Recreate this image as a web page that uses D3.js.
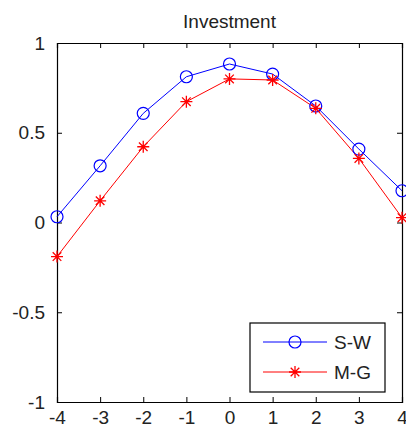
<!DOCTYPE html>
<html>
<head>
<meta charset="utf-8">
<script src="https://cdn.jsdelivr.net/npm/d3@7"></script>
<style>
  body { margin: 0; background: #fff; }
  svg text { font-family: "Liberation Sans", Arial, sans-serif; fill: #222; }
</style>
</head>
<body>
<div id="chart"></div>
<script>
// data
const xValues = [-4, -3, -2, -1, 0, 1, 2, 3, 4];
const swValues = [0.032, 0.316, 0.608, 0.812, 0.883, 0.827, 0.649, 0.409, 0.177];
const mgValues = [-0.19, 0.121, 0.422, 0.673, 0.80, 0.794, 0.636, 0.357, 0.027];
const xTicks = [-4, -3, -2, -1, 0, 1, 2, 3, 4];
const yTicks = [-1, -0.5, 0, 0.5, 1];
const seriesNames = ["S-W", "M-G"];

const width = 406, height = 428;
const margin = { top: 43, right: 4, bottom: 26, left: 57 };
const fontSize = "19px";

const x = d3.scaleLinear().domain([-4, 4]).range([margin.left, width - margin.right]);
const y = d3.scaleLinear().domain([-1, 1]).range([height - margin.bottom, margin.top]);

const svg = d3.select("#chart").append("svg")
  .attr("width", width)
  .attr("height", height);

// title
svg.append("text")
  .attr("x", (x(-4) + x(4)) / 2)
  .attr("y", 28)
  .attr("text-anchor", "middle")
  .style("font-size", fontSize)
  .text("Investment");

// axes (ticks inward, box style)
const tickLen = 5;
const fmt = d => d3.format("")(d).replace("−", "-");

const bottomAxis = svg.append("g")
  .attr("transform", `translate(0,${y(-1)})`)
  .call(d3.axisBottom(x).tickValues(xTicks).tickSize(-tickLen).tickPadding(9).tickFormat(fmt));
const topAxis = svg.append("g")
  .attr("transform", `translate(0,${y(1)})`)
  .call(d3.axisTop(x).tickValues(xTicks).tickSize(-tickLen).tickFormat(""));
const leftAxis = svg.append("g")
  .attr("transform", `translate(${x(-4)},0)`)
  .call(d3.axisLeft(y).tickValues(yTicks).tickSize(-tickLen).tickPadding(12).tickFormat(fmt));
const rightAxis = svg.append("g")
  .attr("transform", `translate(${x(4)},0)`)
  .call(d3.axisRight(y).tickValues(yTicks).tickSize(-tickLen).tickFormat(""));

[bottomAxis, topAxis, leftAxis, rightAxis].forEach(a => {
  a.select(".domain").attr("stroke", "#000").attr("stroke-width", 1.2);
  a.selectAll(".tick line").attr("stroke", "#000");
  a.selectAll("text").style("font-size", fontSize).attr("fill", "#222").style("font-family", "Liberation Sans, Arial, sans-serif");
});

// lines
const line = d3.line().x((d, i) => x(xValues[i])).y(d => y(d));

svg.append("path").datum(swValues)
  .attr("d", line).attr("fill", "none").attr("stroke", "#0000ff").attr("stroke-width", 1);
svg.append("path").datum(mgValues)
  .attr("d", line).attr("fill", "none").attr("stroke", "#ff0000").attr("stroke-width", 1);

function circleMarker(g, cx, cy) {
  g.append("circle").attr("cx", cx).attr("cy", cy).attr("r", 6)
    .attr("fill", "none").attr("stroke", "#0000ff").attr("stroke-width", 1.2);
}
function starMarker(g, cx, cy) {
  const s = 6, d = 4.3;
  const p = `M${cx - s},${cy}L${cx + s},${cy}M${cx},${cy - s}L${cx},${cy + s}` +
            `M${cx - d},${cy - d}L${cx + d},${cy + d}M${cx - d},${cy + d}L${cx + d},${cy - d}`;
  g.append("path").attr("d", p).attr("stroke", "#ff0000").attr("stroke-width", 1.3).attr("fill", "none");
}

const marks = svg.append("g");
swValues.forEach((v, i) => circleMarker(marks, x(xValues[i]), y(v)));
mgValues.forEach((v, i) => starMarker(marks, x(xValues[i]), y(v)));

// legend
const legend = svg.append("g");
legend.append("rect")
  .attr("x", 250).attr("y", 323).attr("width", 135).attr("height", 69)
  .attr("fill", "#fff").attr("stroke", "#000").attr("stroke-width", 1.2);

const legendRows = [
  { name: seriesNames[0], color: "#0000ff", marker: circleMarker, y: 342 },
  { name: seriesNames[1], color: "#ff0000", marker: starMarker, y: 372 }
];
legendRows.forEach(r => {
  legend.append("line").attr("x1", 263).attr("x2", 327).attr("y1", r.y).attr("y2", r.y)
    .attr("stroke", r.color).attr("stroke-width", 1);
  r.marker(legend, 295, r.y);
  legend.append("text").attr("x", 334).attr("y", r.y).attr("dy", "0.35em")
    .style("font-size", fontSize).text(r.name);
});
</script>
</body>
</html>
